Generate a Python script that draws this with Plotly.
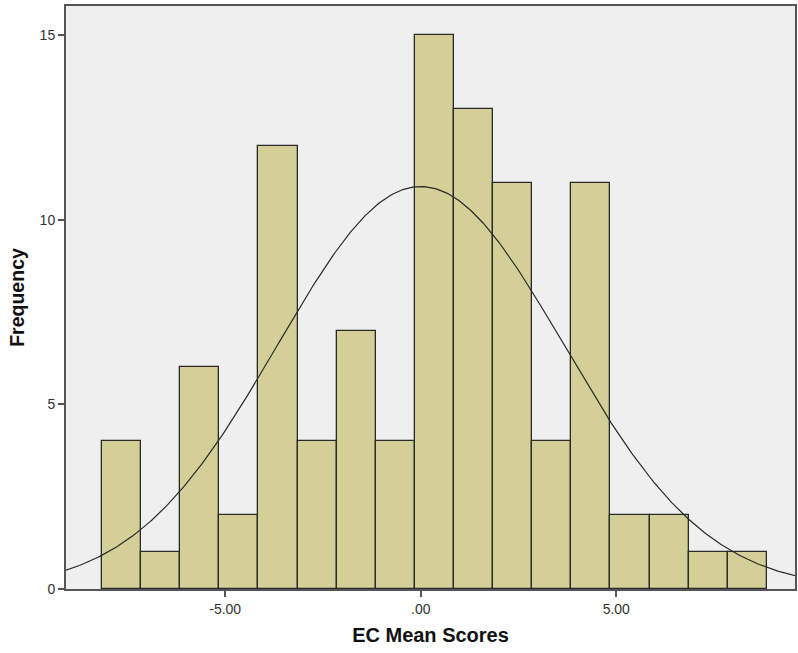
import numpy as np
import plotly.graph_objects as go

# Data
bin_start = -8.15
bin_width = 1.0
counts = [4, 1, 6, 2, 12, 4, 7, 4, 15, 13, 11, 4, 11, 2, 2, 1, 1]
curve_mean = 0.0
curve_sd = 3.66
n_total = sum(counts)
x_tickvals = [-5, 0, 5]
x_ticktext = ["-5.00", ".00", "5.00"]
y_tickvals = [0, 5, 10, 15]

centers = [bin_start + bin_width * (i + 0.5) for i in range(len(counts))]

xs = np.linspace(-9.2, 9.7, 400)
ys = n_total * bin_width / (curve_sd * np.sqrt(2 * np.pi)) * np.exp(-((xs - curve_mean) ** 2) / (2 * curve_sd ** 2))

fig = go.Figure()
fig.add_trace(go.Bar(
    x=centers, y=counts, width=[bin_width] * len(counts),
    marker=dict(color="#d3cf97", line=dict(color="#2a2a2a", width=1.3)),
    hoverinfo="x+y",
))
fig.add_trace(go.Scatter(
    x=xs, y=ys, mode="lines", line=dict(color="#2a2a2a", width=1.2),
    hoverinfo="skip",
))

fig.update_layout(
    width=798, height=653,
    margin=dict(l=66, r=1, t=6, b=64),
    paper_bgcolor="white",
    plot_bgcolor="#efefef",
    showlegend=False,
    bargap=0,
    font=dict(family="Arial, Liberation Sans, sans-serif", color="#333333", size=14),
)
fig.update_xaxes(
    range=[-9.07, 9.57],
    tickvals=x_tickvals, ticktext=x_ticktext,
    ticks="outside", ticklen=6, tickcolor="#555555", tickwidth=2,
    showline=True, linecolor="#555555", linewidth=2, mirror=True,
    showgrid=False, zeroline=False,
    title=dict(text="<b>EC Mean Scores</b>", font=dict(size=20, color="#111111"), standoff=12),
)
fig.update_yaxes(
    range=[0, 15.79],
    tickvals=y_tickvals,
    ticks="outside", ticklen=6, tickcolor="#555555", tickwidth=2,
    showline=True, linecolor="#555555", linewidth=2, mirror=True,
    showgrid=False, zeroline=False,
    title=dict(text="<b>Frequency</b>", font=dict(size=19.5, color="#111111"), standoff=10),
)

fig.write_html("out.html")
